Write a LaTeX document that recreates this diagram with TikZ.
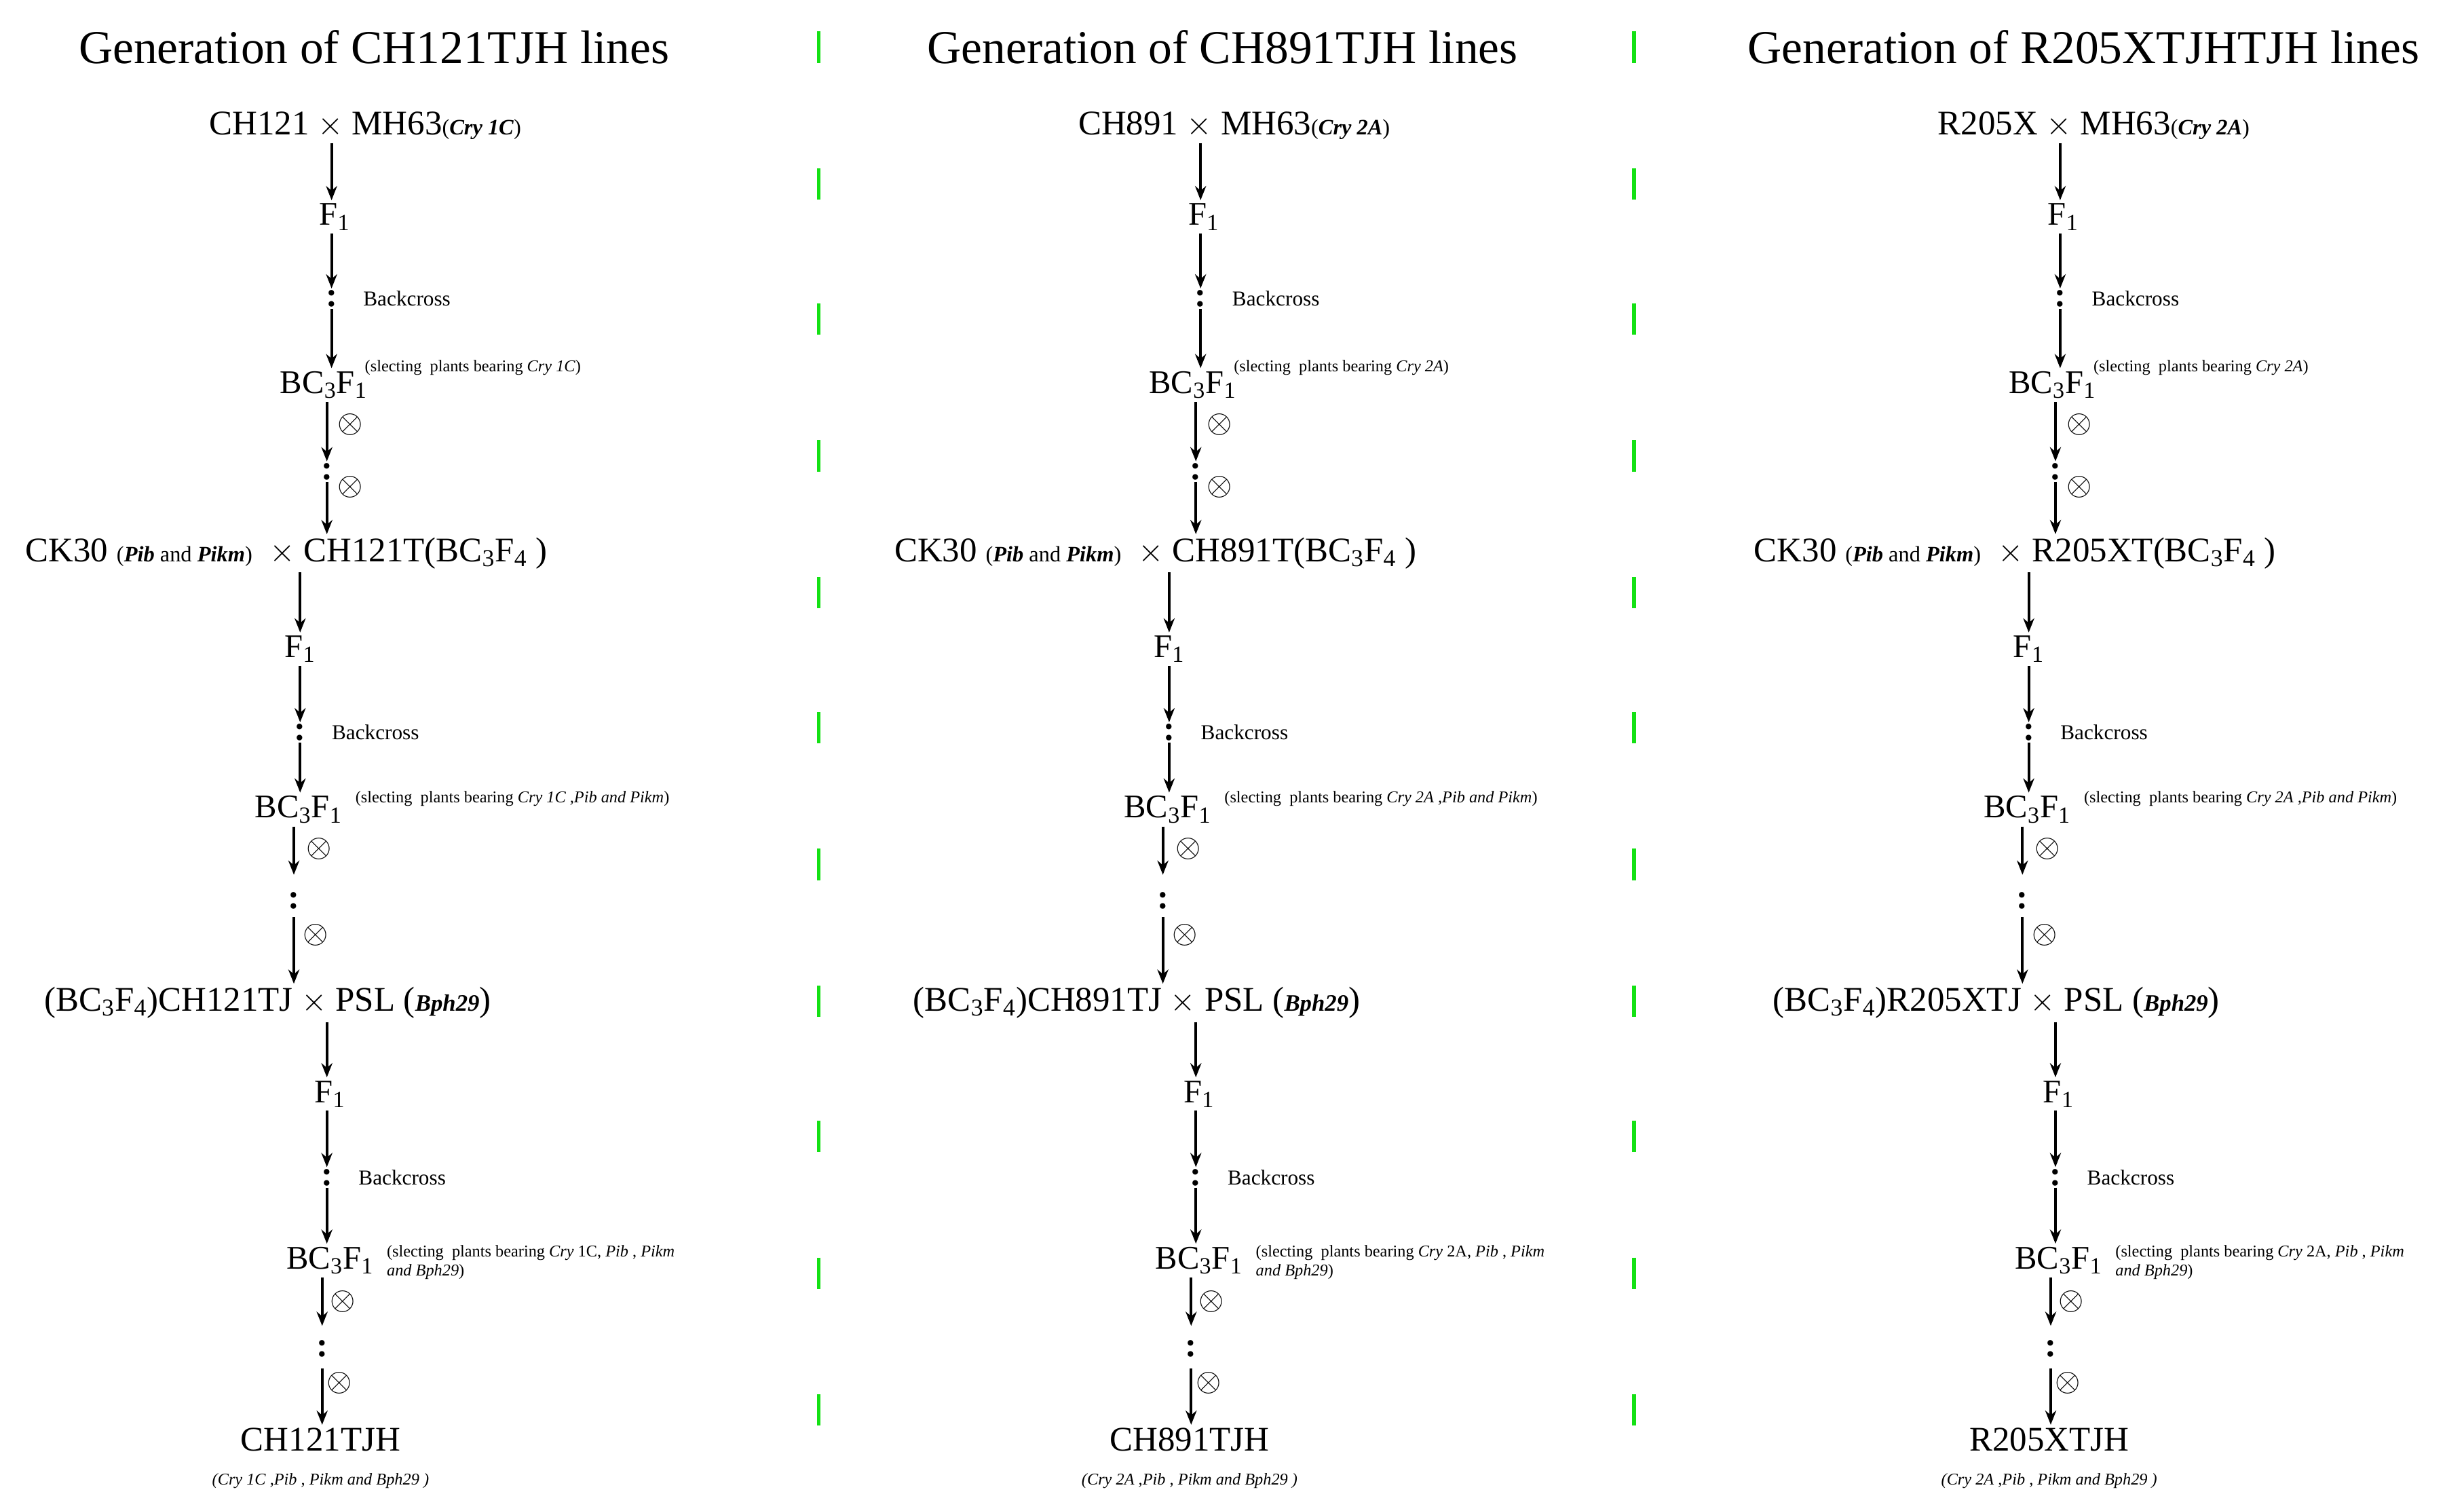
\documentclass[tikz,border=0pt]{standalone}
\usepackage{fontspec}
\setmainfont{Liberation Serif}
\usetikzlibrary{arrows.meta}
\definecolor{dashgreen}{RGB}{20,225,20}
\newcommand\sbs[1]{\textsubscript{#1}}
\tikzset{
  arr/.style={-{Stealth[length=9pt,width=7pt]}, line width=1.8pt},
  big/.style={font=\fontsize{22}{24}\selectfont, inner sep=2pt},
  mid/.style={font=\fontsize{21}{22}\selectfont, inner sep=2pt},
  colon/.style={font=\fontsize{22}{22}\selectfont\bfseries, inner sep=1pt},
  bc/.style={font=\fontsize{13.5}{15}\selectfont, anchor=west, inner sep=0pt},
  note/.style={font=\fontsize{10.5}{12}\selectfont, anchor=west, inner sep=0pt, align=left},
  ox/.style={font=\fontsize{21}{21}\selectfont, inner sep=0pt},
  ttl/.style={font=\fontsize{30}{34}\selectfont, inner sep=0pt}
}
\newcommand\gencol[3]{%
\begin{scope}[xshift=#1]
\node[big, anchor=west] (#2r1) at (131,80) {#2 $\times$ MH63{\fontsize{14}{15}\selectfont(\textbf{\textit{Cry #3}})}};
\node[mid] (#2f1a) at (213,138) {F\sbs{1}};
\node[colon] (#2c1) at (211,190) {:};
\node[bc] (#2b1) at (231,190) {Backcross};
\node[mid] (#2bc1) at (206,245) {BC\sbs{3}F\sbs{1}};
\node[note] (#2n1) at (232,234) {(slecting \ plants bearing \textit{Cry #3})};
\node[colon] (#2c2) at (208,300) {:};
\node[big, anchor=west] (#2r2) at (14,352) {CK30 {\fontsize{14}{15}\selectfont(\textbf{\textit{Pib}} and \textbf{\textit{Pikm}})} \ $\times$ #2T(BC\sbs{3}F\sbs{4} )};
\node[mid] (#2f1b) at (191,413) {F\sbs{1}};
\node[colon] (#2c3) at (191,466) {:};
\node[bc] (#2b2) at (211,466) {Backcross};
\node[mid] (#2bc2) at (190,515) {BC\sbs{3}F\sbs{1}};
\node[note] (#2n2) at (226,508) {(slecting \ plants bearing \textit{Cry #3 ,Pib and Pikm})};
\node[colon] (#2c4) at (187,573) {:};
\node[big, anchor=west] (#2r3) at (26,638) {(BC\sbs{3}F\sbs{4})#2TJ $\times$ PSL (\textbf{\textit{\fontsize{15}{16}\selectfont Bph29}})};
\node[mid] (#2f1c) at (210,696) {F\sbs{1}};
\node[colon] (#2c5) at (208,749) {:};
\node[bc] (#2b3) at (228,749) {Backcross};
\node[mid] (#2bc3) at (210,802) {BC\sbs{3}F\sbs{1}};
\node[note] (#2n3) at (246,803) {(slecting \ plants bearing \textit{Cry} #3, \textit{Pib} , \textit{Pikm}\\ \textit{and Bph29})};
\node[colon] (#2c6) at (205,858) {:};
\node[big] (#2fin) at (204,916) {#2TJH};
\node[note, anchor=center] (#2fn) at (204,942) {\textit{(Cry #3 ,Pib , Pikm and Bph29 )}};
\draw[arr] (#2r1.south -| #2c1) -- (#2f1a.north -| #2c1);
\draw[arr] (#2f1a.south -| #2c1) -- (#2c1.north);
\draw[arr] (#2c1.south) -- (#2bc1.north -| #2c1);
\draw[arr] (#2bc1.south -| #2c2) -- (#2c2.north);
\node[ox] (#2o1) at (223,270) {$\otimes$};
\draw[arr] (#2c2.south) -- (#2r2.north -| #2c2);
\node[ox] (#2o2) at (223,310) {$\otimes$};
\draw[arr] (#2r2.south -| #2c3) -- (#2f1b.north -| #2c3);
\draw[arr] (#2f1b.south -| #2c3) -- (#2c3.north);
\draw[arr] (#2c3.south) -- (#2bc2.north -| #2c3);
\draw[arr] (#2bc2.south -| #2c4) -- ([yshift=10pt]#2c4.north);
\node[ox] (#2o3) at (203,540) {$\otimes$};
\draw[arr] ([yshift=-4pt]#2c4.south) -- (#2r3.north -| #2c4);
\node[ox] (#2o4) at (201,595) {$\otimes$};
\draw[arr] (#2r3.south -| #2c5) -- (#2f1c.north -| #2c5);
\draw[arr] (#2f1c.south -| #2c5) -- (#2c5.north);
\draw[arr] (#2c5.south) -- (#2bc3.north -| #2c5);
\draw[arr] (#2bc3.south -| #2c6) -- ([yshift=8pt]#2c6.north);
\node[ox] (#2o5) at (218,828) {$\otimes$};
\draw[arr] ([yshift=-6pt]#2c6.south) -- (#2fin.north -| #2c6);
\node[ox] (#2o6) at (216,880) {$\otimes$};
\end{scope}}
\begin{document}
\begin{tikzpicture}[x=1pt,y=-1pt]
\useasboundingbox (0,0) rectangle (1568,961);
\node[ttl] (t1) at (238,30) {Generation of CH121TJH lines};
\node[ttl] (t2) at (778,30) {Generation of CH891TJH lines};
\node[ttl] (t3) at (1326,30) {Generation of R205XTJHTJH lines};
\gencol{0pt}{CH121}{1C}
\gencol{553pt}{CH891}{2A}
\gencol{1100pt}{R205X}{2A}
\foreach \yy in {30,117,203,290,377,463,550,637,723,810,897}{
  \draw[dashgreen, line width=2.5pt] (521,\yy-10) -- (521,\yy+10);
  \draw[dashgreen, line width=2.5pt] (1040,\yy-10) -- (1040,\yy+10);
}
\end{tikzpicture}
\end{document}
